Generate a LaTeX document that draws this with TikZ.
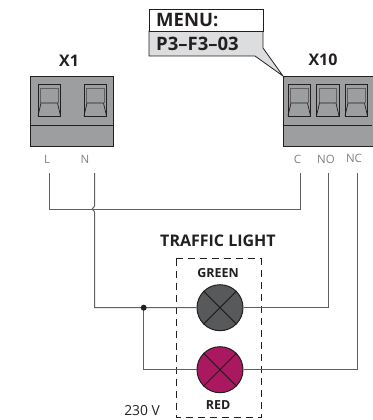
\documentclass[tikz,border=0pt]{standalone}
\usepackage{fontspec}
\setmainfont{Open Sans}
\usepackage{tikz}
\definecolor{boxgray}{RGB}{157,158,160}
\definecolor{menugray}{RGB}{220,221,222}
\definecolor{wiregray}{RGB}{95,96,98}
\definecolor{lampgray}{RGB}{88,89,91}
\definecolor{lampred}{RGB}{170,25,95}
\definecolor{inkdark}{RGB}{35,31,32}
\tikzset{
  connbox/.style={draw=inkdark, fill=boxgray, line width=0.8pt},
  wire/.style={draw=wiregray, line width=1pt},
  pinlabel/.style={text=gray, font=\fontsize{11.5}{13}\selectfont, inner sep=0pt},
  title/.style={text=inkdark, font=\fontsize{16}{18}\selectfont\bfseries, inner sep=0pt},
  menutext/.style={text=inkdark, font=\fontsize{18.5}{20}\selectfont\bfseries, inner sep=0pt},
  lamp/.style={circle, draw=inkdark, line width=1pt, minimum size=46pt, inner sep=0pt},
  small/.style={text=inkdark, font=\fontsize{12.5}{14}\selectfont\bfseries, inner sep=0pt}
}
% one screw terminal, #1 is its left edge
\newcommand{\terminal}[1]{
\draw [inkdark, line width=0.7pt] (#1,84) rectangle (#1+22.5,116);
\draw [wiregray, line width=0.7pt] (#1+2.5,88) -- (#1+20,88) -- (#1+20,103);
\draw [wiregray, line width=0.7pt] (#1+2.5,88) -- (#1+2.5,103);
\draw [inkdark, line width=0.7pt] (#1,116) -- (#1+3,103) -- (#1+19.5,103) -- (#1+22.5,116);
}
\begin{document}
\begin{tikzpicture}[x=1pt,y=-1pt]
\useasboundingbox (0,0) rectangle (372,420);
% connectors
\draw [connbox] (30.5,76) rectangle (113.5,146);
\draw [inkdark, line width=0.8pt] (30.5,125) -- (113.5,125);
\terminal{38}
\terminal{84}
\draw [connbox] (283,76) rectangle (373,146);
\draw [inkdark, line width=0.8pt] (283,125) -- (372,125);
\terminal{288}
\terminal{316.5}
\terminal{345}
\node (x1) [title] at (69,61) {X1};
\node (x10) [title] at (323,60) {X10};
% pin labels
\node (pinL) [pinlabel] at (47,159) {L};
\node (pinN) [pinlabel] at (85,159) {N};
\node (pinC) [pinlabel] at (297.5,159) {C};
\node (pinNO) [pinlabel] at (326,159) {NO};
\node (pinNC) [pinlabel] at (354,158) {NC};
% menu
\draw [inkdark, fill=menugray, line width=0.8pt] (149,31) -- (263,31) -- (263,48) -- (283,76) -- (255,56) -- (149,56) -- cycle;
\draw [inkdark, fill=white, line width=0.8pt] (149,9) rectangle (263,31);
\node (menu) [menutext, anchor=west] at (156,20.5) {MENU:};
\node (par) [menutext, anchor=west] at (156,44) {P3–F3–03};
% lamps
\node (tl) [title] at (218,241) {TRAFFIC LIGHT};
\draw [inkdark, dashed, dash pattern=on 7pt off 5pt, line width=0.9pt] (176,258.5) rectangle (261,417);
\node (green) [lamp, fill=lampgray] at (220,307.7) {};
\node (red) [lamp, fill=lampred] at (220,369.7) {};
\foreach \l in {green,red} {
  \draw [inkdark, line width=1pt] (\l.45) -- (\l.225);
  \draw [inkdark, line width=1pt] (\l.135) -- (\l.315);
}
\node (lg) [small] at (218,273) {GREEN};
\node (lr) [small] at (218,405) {RED};
\node (volt) [text=inkdark, font=\fontsize{13.8}{15}\selectfont, inner sep=0pt] at (142,411) {230 V};
% wires
\coordinate (topL) at (49,173);
\coordinate (topN) at (94.5,173);
\coordinate (topC) at (300.3,173);
\coordinate (topNO) at (328,173);
\coordinate (topNC) at (357.5,173);
\coordinate (bendL) at (49,209.5);
\coordinate (bendC) at (300.3,209.5);
\coordinate (dot) at (143.7,307.7);
\draw [wire] (topL) -- (bendL) -- (bendC) -- (topC);
\draw [wire] (topN) -- (94.5,206) .. controls (94.5,208) and (91.5,208) .. (92,209.5) .. controls (92.5,210) and (94.5,210) .. (94.5,212) |- (green);
\draw [wire] (dot) |- (red);
\draw [wire] (green) -| (topNO);
\draw [wire] (red) -| (topNC);
\node (jn) [circle, fill=inkdark, minimum size=6pt, inner sep=0pt] at (dot) {};
\end{tikzpicture}
\end{document}
